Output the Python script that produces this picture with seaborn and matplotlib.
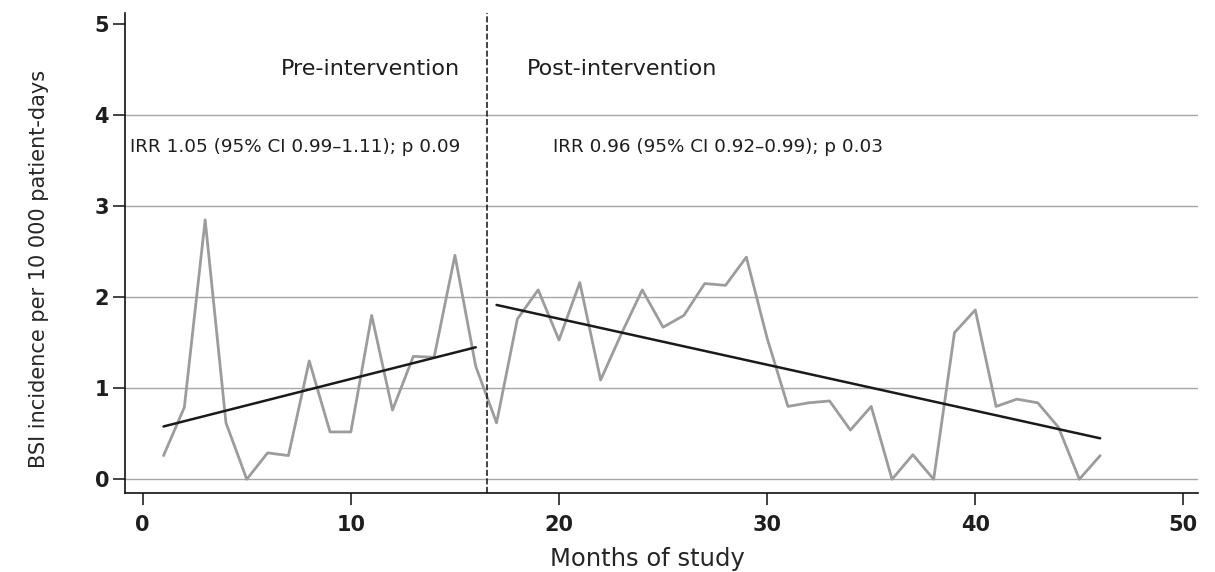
import matplotlib
matplotlib.use("Agg")
import matplotlib.pyplot as plt
import seaborn as sns
import pandas as pd

# monthly BSI incidence per 10 000 patient-days
months = list(range(1, 47))
incidence = [0.26, 0.79, 2.85, 0.62, 0.00, 0.29, 0.26, 1.30, 0.52, 0.52,
             1.80, 0.76, 1.35, 1.34, 2.46, 1.24, 0.62, 1.76, 2.08, 1.53,
             2.16, 1.09, 1.60, 2.08, 1.67, 1.80, 2.15, 2.13, 2.44, 1.55,
             0.80, 0.84, 0.86, 0.54, 0.80, 0.00, 0.27, 0.00, 1.61, 1.86,
             0.80, 0.88, 0.84, 0.57, 0.00, 0.26]

# fitted trend segments (endpoints)
pre_x = [1, 16]
pre_y = [0.58, 1.45]
post_x = [17, 46]
post_y = [1.915, 0.45]

intervention = 16.55
pre_label = "IRR 1.05 (95% CI 0.99\u20131.11); p 0.09"
post_label = "IRR 0.96 (95% CI 0.92\u20130.99); p 0.03"

df = pd.DataFrame({"month": months, "bsi": incidence})
trend = pd.DataFrame({"month": pre_x + post_x, "bsi": pre_y + post_y,
                      "phase": ["pre"] * 2 + ["post"] * 2})

sns.set_theme(style="white")
plt.rcParams["font.family"] = ["DejaVu Sans"]
plt.rcParams["text.color"] = "#1e1e1e"

fig = plt.figure(figsize=(12.15, 5.72), dpi=100)
ax = fig.add_axes([0.1029, 0.1376, 0.8831, 0.8394])

sns.lineplot(data=df, x="month", y="bsi", color="#9c9c9c", linewidth=2.0, ax=ax)
sns.lineplot(data=trend, x="month", y="bsi", units="phase", estimator=None,
             color="#1a1a1a", linewidth=1.8, ax=ax)

ax.axvline(intervention, color="#111111", linewidth=1.1, linestyle=(0, (4, 1.6)))

ax.set_xlim(-0.85, 50.7)
ax.set_ylim(-0.154, 5.12)
ax.set_xticks([0, 10, 20, 30, 40, 50])
ax.set_yticks([0, 1, 2, 3, 4, 5])

ax.yaxis.grid(True, color="#a6a6a6", linewidth=1.0)
ax.get_ygridlines()[-1].set_visible(False)
ax.xaxis.grid(False)
ax.set_axisbelow(True)

for side in ["top", "right"]:
    ax.spines[side].set_visible(False)
for side in ["left", "bottom"]:
    ax.spines[side].set_color("#111111")
    ax.spines[side].set_linewidth(1.2)

ax.tick_params(axis="both", which="major", direction="out", length=8.5, width=1.1,
               color="#111111", labelsize=15, labelcolor="#1e1e1e",
               bottom=True, left=True)
ax.tick_params(axis="x", pad=7)
ax.tick_params(axis="y", pad=3)
for lab in ax.get_xticklabels() + ax.get_yticklabels():
    lab.set_fontweight("bold")

ax.set_xlabel("Months of study", fontsize=17.5)
ax.set_ylabel("BSI incidence per 10 000 patient-days", fontsize=15)
ax.xaxis.set_label_coords(0.487, -0.112)
ax.yaxis.set_label_coords(-0.071, 0.467)

ax.text(15.25, 4.443, "Pre-intervention", ha="right", va="baseline", fontsize=16)
ax.text(18.48, 4.443, "Post-intervention", ha="left", va="baseline", fontsize=16)
ax.text(-0.61, 3.60, pre_label, ha="left", va="baseline", fontsize=13.2)
ax.text(19.73, 3.60, post_label, ha="left", va="baseline", fontsize=13.2)

fig.savefig("out.png", dpi=100)
